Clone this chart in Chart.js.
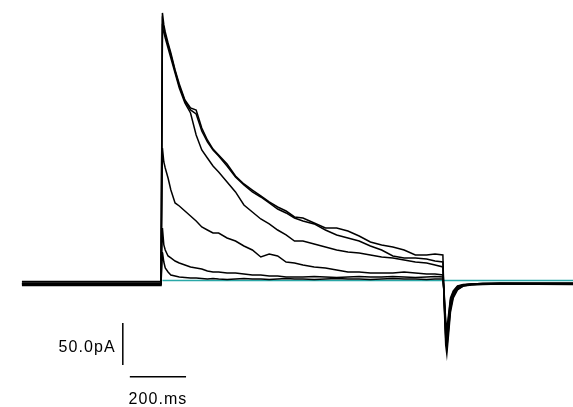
<!DOCTYPE html>
<html>
<head>
<meta charset="utf-8">
<script src="https://cdn.jsdelivr.net/npm/chart.js@4"></script>
<style>
  html, body { margin: 0; padding: 0; background: #fff; }
  #wrap { width: 573px; height: 407px; }
</style>
</head>
<body>
<div id="wrap"><canvas id="chart" width="573" height="407"></canvas></div>
<script>
// sample times (ms), voltage step from 500 to 1500 ms
const timesMs = [0, 495, 500, 505, 510, 520, 530, 545, 560, 580,
  600, 620, 640, 660, 680, 700, 730, 760, 790, 820,
  850, 880, 910, 940, 970, 1000, 1040, 1080, 1120, 1160,
  1200, 1240, 1280, 1320, 1360, 1400, 1440, 1470, 1498, 1502,
  1508, 1512, 1518, 1525, 1535, 1550, 1570, 1600, 1640, 1700, 1961];

// current traces (pA)
const trace1 = [-0.6, -0.6, 319.1, 304.8, 296.4, 283.3, 271.4, 251.2, 234.5, 215.5,
  206.0, 203.6, 182.1, 167.9, 157.1, 150.0, 139.3, 125.0, 115.5, 108.3,
  101.2, 94.1, 88.1, 83.3, 76.2, 75.0, 69.0, 63.1, 63.1, 59.5,
  53.6, 46.4, 42.9, 40.5, 36.9, 31.0, 31.0, 32.1, 31.0, -22.6,
  -76.2, -86.9, -64.3, -36.9, -20.2, -10.7, -6.0, -4.2, -3.6, -3.0, -3.0];
const trace2 = [-3.0, -3.0, 308.3, 301.2, 292.9, 281.0, 269.0, 250.0, 232.1, 214.3,
  203.6, 198.8, 178.6, 165.5, 156.0, 148.8, 136.9, 123.8, 114.3, 106.0,
  100.0, 92.9, 85.7, 81.0, 75.0, 71.4, 67.9, 60.7, 54.8, 51.2,
  47.6, 41.7, 36.9, 29.8, 27.4, 27.4, 26.2, 23.8, 22.6, -20.2,
  -67.9, -79.8, -58.3, -33.3, -17.9, -9.5, -6.0, -4.8, -4.2, -3.6, -3.6];
const trace3 = [-4.2, -4.2, 301.2, 296.4, 289.3, 277.4, 265.5, 247.6, 229.8, 211.9,
  200.0, 173.8, 156.0, 146.4, 136.9, 129.8, 117.9, 106.0, 90.5, 82.1,
  73.8, 67.9, 60.7, 54.8, 47.6, 47.6, 44.0, 40.5, 36.9, 34.5,
  33.3, 31.0, 28.6, 27.4, 25.0, 22.6, 21.4, 19.0, 16.7, -17.9,
  -64.3, -76.2, -53.6, -29.8, -16.7, -8.3, -5.4, -4.2, -3.6, -3.6, -4.2];
const trace4 = [-5.4, -5.4, 158.3, 141.7, 134.5, 122.6, 108.3, 92.9, 89.3, 83.3,
  77.4, 71.4, 64.3, 60.7, 57.1, 57.1, 51.2, 47.6, 41.7, 36.9,
  28.6, 32.1, 29.8, 22.6, 21.4, 19.0, 16.7, 15.5, 13.1, 10.7,
  10.7, 9.5, 9.5, 9.5, 10.7, 9.5, 8.3, 8.3, 7.1, -15.5,
  -58.3, -70.2, -48.8, -26.2, -14.3, -7.1, -4.8, -3.6, -3.0, -3.0, -3.0];
const trace5 = [-2.4, -2.4, 63.1, 42.9, 36.9, 29.8, 27.4, 23.8, 21.4, 19.0,
  16.7, 15.5, 14.3, 11.9, 10.7, 10.7, 9.5, 9.5, 8.3, 7.1,
  7.1, 6.0, 6.0, 4.8, 4.8, 4.8, 5.4, 4.8, 4.2, 4.8,
  5.4, 4.8, 4.8, 5.4, 4.8, 4.2, 4.8, 5.4, 4.8, -13.1,
  -52.4, -64.3, -44.0, -22.6, -13.1, -6.5, -4.8, -3.6, -3.0, -2.4, -2.4];
const trace6 = [-3.6, -3.6, 34.5, 22.6, 15.5, 10.7, 7.1, 6.0, 4.8, 4.2,
  3.6, 3.6, 3.0, 2.4, 3.0, 2.4, 1.8, 2.4, 3.0, 2.4,
  2.4, 1.8, 2.4, 3.0, 2.4, 2.4, 1.8, 2.4, 3.0, 2.4,
  2.4, 1.8, 2.4, 3.0, 2.4, 2.4, 1.8, 2.4, 2.4, -10.7,
  -46.4, -58.3, -40.5, -20.2, -11.9, -6.0, -4.2, -3.6, -3.0, -3.0, -3.6];

// zero-current reference line
const zeroTimes = [500, 1961];
const zeroValues = [0.6, 0.6];

// scale bars
const barCurrentPa = 50;
const barTimeMs = 200;
const barCurrentLabel = '50.0pA';
const barTimeLabel = '200.ms';

const traces = [trace1, trace2, trace3, trace4, trace5, trace6];

const toPoints = (xs, ys) => xs.map((x, i) => ({ x: x, y: ys[i] }));

const barX = 359;          // ms, where the current bar sits
const barTop = -50;        // pA
const hBarStart = 384;     // ms
const hBarY = -114;        // pA

const datasets = traces.map(t => ({
  data: toPoints(timesMs, t),
  borderColor: '#000',
  borderWidth: 1.5,
  pointRadius: 0,
  tension: 0
}));

datasets.push({
  data: [{ x: barX, y: barTop }, { x: barX, y: barTop - barCurrentPa }],
  borderColor: '#000', borderWidth: 1.5, pointRadius: 0
});
datasets.push({
  data: [{ x: hBarStart, y: hBarY }, { x: hBarStart + barTimeMs, y: hBarY }],
  borderColor: '#000', borderWidth: 1.5, pointRadius: 0
});
datasets.push({
  data: toPoints(zeroTimes, zeroValues),
  borderColor: '#2aa8a8', borderWidth: 1.5, pointRadius: 0
});

const scaleLabels = {
  id: 'scaleLabels',
  afterDatasetsDraw(chart) {
    const ctx = chart.ctx;
    const x = chart.scales.x, y = chart.scales.y;
    ctx.save();
    ctx.fillStyle = '#000';
    ctx.font = '16px "Liberation Sans", Arial, sans-serif';
    ctx.letterSpacing = '1.1px';
    ctx.textBaseline = 'middle';
    ctx.textAlign = 'right';
    ctx.fillText(barCurrentLabel, x.getPixelForValue(barX) - 7, y.getPixelForValue(barTop - barCurrentPa * 0.58));
    ctx.textAlign = 'center';
    ctx.fillText(barTimeLabel, x.getPixelForValue(hBarStart + barTimeMs / 2), y.getPixelForValue(-141));
    ctx.restore();
  }
};

new Chart(document.getElementById('chart'), {
  type: 'line',
  data: { datasets: datasets },
  options: {
    responsive: false,
    animation: false,
    devicePixelRatio: 1,
    layout: { padding: 0 },
    plugins: {
      legend: { display: false },
      tooltip: { enabled: false }
    },
    scales: {
      x: { type: 'linear', display: false, min: -78, max: 1961 },
      y: { type: 'linear', display: false, min: -150, max: 334.5 }
    }
  },
  plugins: [scaleLabels]
});
</script>
</body>
</html>
